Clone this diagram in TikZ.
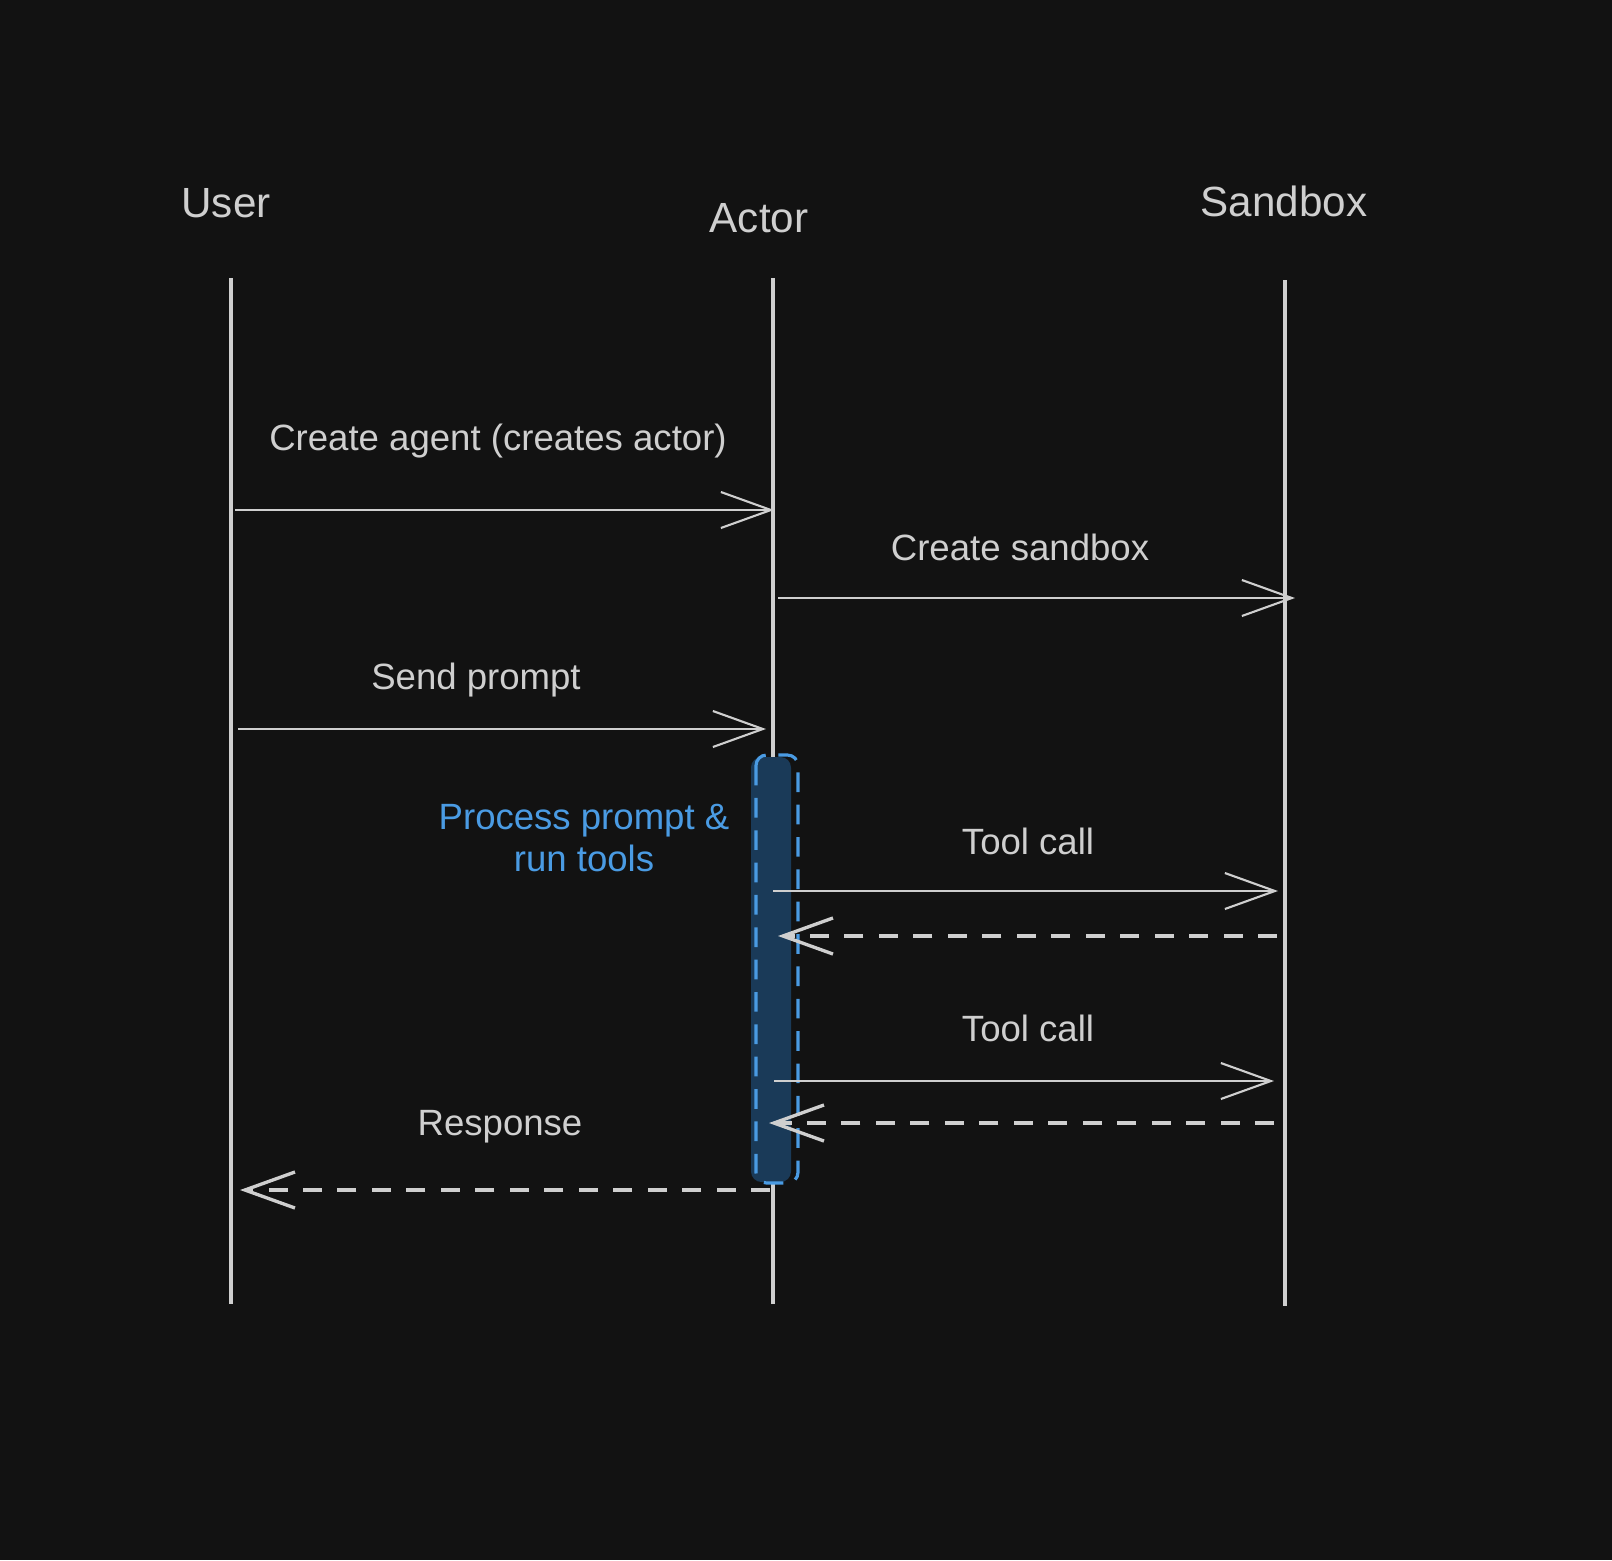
\documentclass[tikz,border=0pt]{standalone}
\usepackage{fontspec}
\setmainfont{Liberation Sans}
\usetikzlibrary{arrows.meta}

\definecolor{bg}{HTML}{121212}
\definecolor{ink}{HTML}{CFCFCF}
\definecolor{actblue}{HTML}{4A9BE3}
\definecolor{actfill}{HTML}{1A3A58}

\tikzset{
    lifeline/.style={ink, line width=1.05pt},
    msg/.style={ink, line width=0.6pt, -{Straight Barb[length=5mm,width=3.6mm]}},
    reply/.style={ink, line width=0.95pt, dash pattern=on 5.4pt off 4.4pt,
        -{Straight Barb[length=5mm,width=3.6mm]}},
    head/.style={text=ink, font=\fontsize{12}{14}\selectfont},
    lbl/.style={text=ink, font=\fontsize{10.4}{12}\selectfont},
}

\begin{document}
\begin{tikzpicture}[x=0.01cm,y=-0.01cm]
        \useasboundingbox[fill=bg] (0,0) rectangle (1612,1560);

        %%%%%%% Partecipanti %%%%%%%
        \node[head] (user) at (226,203) {User};
        \node[head] (actor) at (759,218) {Actor};
        \node[head] (sandbox) at (1284,201) {Sandbox};

        %%%%%%% Linee di vita %%%%%%%
        \coordinate (uTop) at (231,278);   \coordinate (uBot) at (231,1304);
        \coordinate (aTop) at (773,278);   \coordinate (aBot) at (773,1304);
        \coordinate (sTop) at (1285,280);  \coordinate (sBot) at (1285,1306);
        \draw[lifeline] (uTop) -- (uBot);
        \draw[lifeline] (aTop) -- (aBot);
        \draw[lifeline] (sTop) -- (sBot);

        %%%%%%% Attivazione %%%%%%%
        \fill[actfill,rounded corners=3] (751,757) rectangle (791,1182);
        \draw[actblue,line width=0.9pt,dash pattern=on 5.6pt off 3.6pt,rounded corners=3]
            (756,755) rectangle (798,1183);
        \node[text=actblue,font=\fontsize{10.4}{11.7}\selectfont,align=center] (proc) at (584,838)
            {Process prompt \&\\run tools};

        %%%%%%% Messaggi %%%%%%%
        \coordinate (m1s) at (235,510);  \coordinate (m1e) at (774,510);
        \coordinate (m2s) at (778,598);  \coordinate (m2e) at (1295,598);
        \coordinate (m3s) at (238,729);  \coordinate (m3e) at (766,729);
        \coordinate (m4s) at (773,891);  \coordinate (m4e) at (1278,891);
        \coordinate (m5s) at (1277,936); \coordinate (m5e) at (778,936);
        \coordinate (m6s) at (774,1081); \coordinate (m6e) at (1274,1081);
        \coordinate (m7s) at (1274,1123); \coordinate (m7e) at (769,1123);
        \coordinate (m8s) at (770,1190); \coordinate (m8e) at (240,1190);

        \draw[msg] (m1s) -- (m1e);
        \draw[msg] (m2s) -- (m2e);
        \draw[msg] (m3s) -- (m3e);
        \draw[msg] (m4s) -- (m4e);
        \draw[reply] (m5s) -- (m5e);
        \draw[msg] (m6s) -- (m6e);
        \draw[reply] (m7s) -- (m7e);
        \draw[reply] (m8s) -- (m8e);

        %%%%%%% Etichette %%%%%%%
        \node[lbl] (l1) at (498,441) {Create agent (creates actor)};
        \node[lbl] (l2) at (1020,547) {Create sandbox};
        \node[lbl] (l3) at (476,680) {Send prompt};
        \node[lbl] (l4) at (1028,841) {Tool call};
        \node[lbl] (l6) at (1028,1028) {Tool call};
        \node[lbl] (l8) at (500,1127) {Response};
\end{tikzpicture}
\end{document}
